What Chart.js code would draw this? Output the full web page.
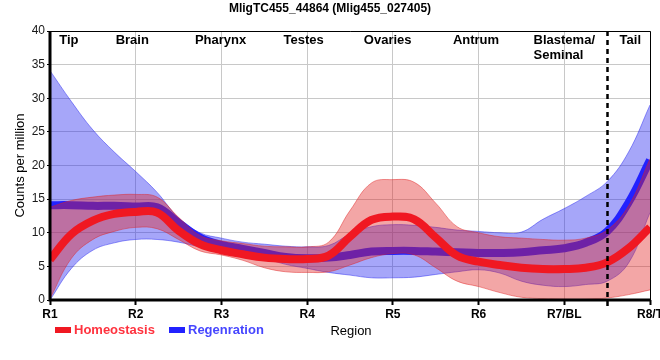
<!DOCTYPE html>
<html>
<head>
<meta charset="utf-8">
<script src="https://cdn.jsdelivr.net/npm/chart.js@4.4.1/dist/chart.umd.min.js"></script>
<style>
html,body{margin:0;padding:0;background:#fff;}
canvas{display:block;}
</style>
</head>
<body>
<canvas id="c" width="660" height="360"></canvas>
<script>
const chartTitle = 'MligTC455_44864 (Mlig455_027405)';
const xLabels = ['R1','R2','R3','R4','R5','R6','R7/BL','R8/T'];
const regionNames = [['Tip'],['Brain'],['Pharynx'],['Testes'],['Ovaries'],['Antrum'],['Blastema/','Seminal'],['Tail']];
const regionAt = [1.22, 1.96, 2.99, 3.96, 4.94, 5.97, 7.0, 7.77];
const boundaryAt = 7.5;
const seriesNames = ['Homeostasis', 'Regenration'];

const xPos = [1,1.25,1.5,1.75,2,2.25,2.5,2.75,3,3.25,3.5,3.75,4,4.25,4.5,4.75,5,5.25,5.5,5.75,6,6.25,6.5,6.75,7,7.25,7.5,7.75,8];

const homMean = [6.0,9.8,11.8,12.8,13.1,13.0,10.3,8.3,7.4,6.8,6.3,6.1,6.1,6.6,9.4,11.9,12.4,12.0,9.3,6.6,5.7,5.2,4.8,4.6,4.6,4.8,5.6,7.7,10.8];
const homHi   = [13.8,14.8,15.3,15.6,15.7,15.3,12.3,9.6,8.8,8.4,8.0,7.9,7.9,8.6,13.3,17.4,17.9,17.5,14.4,10.9,10.0,9.4,9.2,9.0,8.9,9.2,10.4,14.0,21.0];
const homLo   = [0.2,6.2,9.0,10.2,10.8,10.6,9.0,7.3,6.7,5.9,4.8,4.2,4.1,4.2,5.2,6.3,6.9,6.7,4.8,2.8,2.0,1.1,0.4,0.2,0.1,0.1,0.3,0.8,1.5];

const regMean = [14.1,14.1,14.0,14.0,13.9,13.8,11.5,9.3,8.2,7.6,7.0,6.4,6.2,6.3,6.7,7.2,7.3,7.3,7.2,7.1,7.0,7.0,7.1,7.4,7.7,8.5,10.2,14.5,20.8];
const regHi   = [34.1,29.5,25.3,22.0,19.1,16.0,12.2,10.0,9.2,8.6,8.3,8.0,7.9,8.1,9.8,10.9,11.2,11.1,10.8,10.4,10.2,10.0,10.1,12.0,13.6,15.4,17.6,22.0,29.0];
const regLo   = [0.0,4.7,7.4,8.5,9.0,9.0,8.6,7.9,7.3,6.8,6.2,5.3,4.7,4.1,3.7,3.3,3.3,3.4,3.8,4.2,4.5,4.0,2.8,2.2,2.0,2.3,2.8,5.5,13.0];

const yMin = 0, yMax = 40, yStep = 5;

const pts = arr => xPos.map((x, i) => ({x: x, y: arr[i]}));

const RED_LINE = 'rgb(240,24,34)';
const RED_FILL = 'rgba(224,32,32,0.4)';
const RED_EDGE = 'rgba(224,32,32,0.45)';
const BLUE_LINE = 'rgb(34,34,255)';
const BLUE_FILL = 'rgba(32,32,240,0.4)';
const BLUE_EDGE = 'rgba(32,32,240,0.45)';
const FONT = '"Liberation Sans", Arial, sans-serif';

const common = {pointRadius: 0, pointHoverRadius: 0, cubicInterpolationMode: 'default', tension: 0.4};

const overlay = {
  id: 'overlay',
  beforeDraw(chart) {
    const ctx = chart.ctx;
    ctx.save();
    ctx.fillStyle = '#fff';
    ctx.fillRect(0, 0, chart.width, chart.height);
    ctx.restore();
  },
  afterDraw(chart) {
    const ctx = chart.ctx;
    const a = chart.chartArea;
    const xs = chart.scales.x;
    ctx.save();
    // title
    ctx.fillStyle = '#000';
    ctx.font = 'bold 12px ' + FONT;
    ctx.textAlign = 'center';
    ctx.textBaseline = 'middle';
    ctx.fillText(chartTitle, 330, 9);
    // region labels
    ctx.font = 'bold 13px ' + FONT;
    ctx.textBaseline = 'top';
    regionNames.forEach((lines, i) => {
      const cx = xs.getPixelForValue(regionAt[i]);
      const w = Math.max(...lines.map(l => ctx.measureText(l).width));
      ctx.textAlign = 'left';
      lines.forEach((l, j) => {
        ctx.fillText(l, cx - (lines.length > 1 ? w : ctx.measureText(l).width) / 2, a.top + 3 + j * 15);
      });
    });
    // dashed boundary
    const bx = Math.round(xs.getPixelForValue(boundaryAt)) + 0.5;
    ctx.strokeStyle = '#000';
    ctx.lineWidth = 2.5;
    ctx.setLineDash([5, 4]);
    ctx.beginPath();
    ctx.moveTo(bx, a.top);
    ctx.lineTo(bx, a.bottom + 6);
    ctx.stroke();
    ctx.setLineDash([]);
    // frame
    ctx.lineWidth = 1;
    ctx.beginPath();
    ctx.moveTo(a.left, a.top + 0.5);
    ctx.lineTo(a.right + 0.5, a.top + 0.5);
    ctx.lineTo(a.right + 0.5, a.bottom);
    ctx.stroke();
    ctx.lineWidth = 3;
    ctx.beginPath();
    ctx.moveTo(a.left, a.top);
    ctx.lineTo(a.left, a.bottom);
    ctx.lineTo(a.right + 1, a.bottom);
    ctx.stroke();
    // x axis title
    ctx.font = '13px ' + FONT;
    ctx.textAlign = 'center';
    ctx.textBaseline = 'middle';
    ctx.fillStyle = '#000';
    ctx.fillText('Region', (a.left + a.right) / 2 + 1, 331);
    // legend
    const items = [
      {label: seriesNames[0], box: RED_LINE, text: 'rgb(255,50,62)', x: 55},
      {label: seriesNames[1], box: BLUE_LINE, text: 'rgb(70,70,255)', x: 169}
    ];
    ctx.font = 'bold 13px ' + FONT;
    ctx.textAlign = 'left';
    items.forEach(it => {
      ctx.fillStyle = it.box;
      ctx.fillRect(it.x, 327, 16, 6);
      ctx.fillStyle = it.text;
      ctx.fillText(it.label, it.x + 19, 330.5);
    });
    ctx.restore();
  }
};

new Chart(document.getElementById('c'), {
  type: 'line',
  data: {
    datasets: [
      Object.assign({label: seriesNames[0], data: pts(homMean), borderColor: RED_LINE, borderWidth: 8, fill: false}, common),
      Object.assign({label: seriesNames[0] + ' hi', data: pts(homHi), borderColor: RED_EDGE, borderWidth: 1, backgroundColor: RED_FILL, fill: '+1'}, common),
      Object.assign({label: seriesNames[0] + ' lo', data: pts(homLo), borderColor: RED_EDGE, borderWidth: 1, fill: false}, common),
      Object.assign({label: seriesNames[1], data: pts(regMean), borderColor: BLUE_LINE, borderWidth: 8, fill: false}, common),
      Object.assign({label: seriesNames[1] + ' hi', data: pts(regHi), borderColor: BLUE_EDGE, borderWidth: 1, backgroundColor: BLUE_FILL, fill: '+1'}, common),
      Object.assign({label: seriesNames[1] + ' lo', data: pts(regLo), borderColor: BLUE_EDGE, borderWidth: 1, fill: false}, common)
    ]
  },
  options: {
    responsive: false,
    animation: false,
    events: [],
    layout: {padding: {top: 31, right: 10, left: 0, bottom: 0}},
    plugins: {legend: {display: false}, tooltip: {enabled: false}, title: {display: false}},
    scales: {
      x: {
        type: 'linear', min: 1, max: 8,
        afterBuildTicks: s => { s.ticks = xLabels.map((_, i) => ({value: i + 1})); },
        afterFit: s => { s.height = 60; s.paddingLeft = 0; s.paddingRight = 0; },
        ticks: {
          autoSkip: false, maxRotation: 0, padding: 2,
          callback: v => xLabels[Math.round(v) - 1],
          font: {family: FONT, size: 12, weight: 'bold'}, color: '#000'
        },
        grid: {color: '#c8c8c8', lineWidth: 1, tickColor: '#000', tickLength: 5, tickWidth: 2},
        border: {display: false}
      },
      y: {
        min: yMin, max: yMax,
        afterFit: s => { s.width = 50; },
        ticks: {stepSize: yStep, padding: 2, font: {family: FONT, size: 12}, color: '#1a1a1a'},
        grid: {color: '#c8c8c8', lineWidth: 1, tickColor: '#000', tickLength: 3, tickWidth: 1},
        border: {display: false},
        title: {display: true, text: 'Counts per million', font: {family: FONT, size: 13}, color: '#000', padding: {top: 13, bottom: 6}}
      }
    }
  },
  plugins: [overlay]
});
</script>
</body>
</html>
